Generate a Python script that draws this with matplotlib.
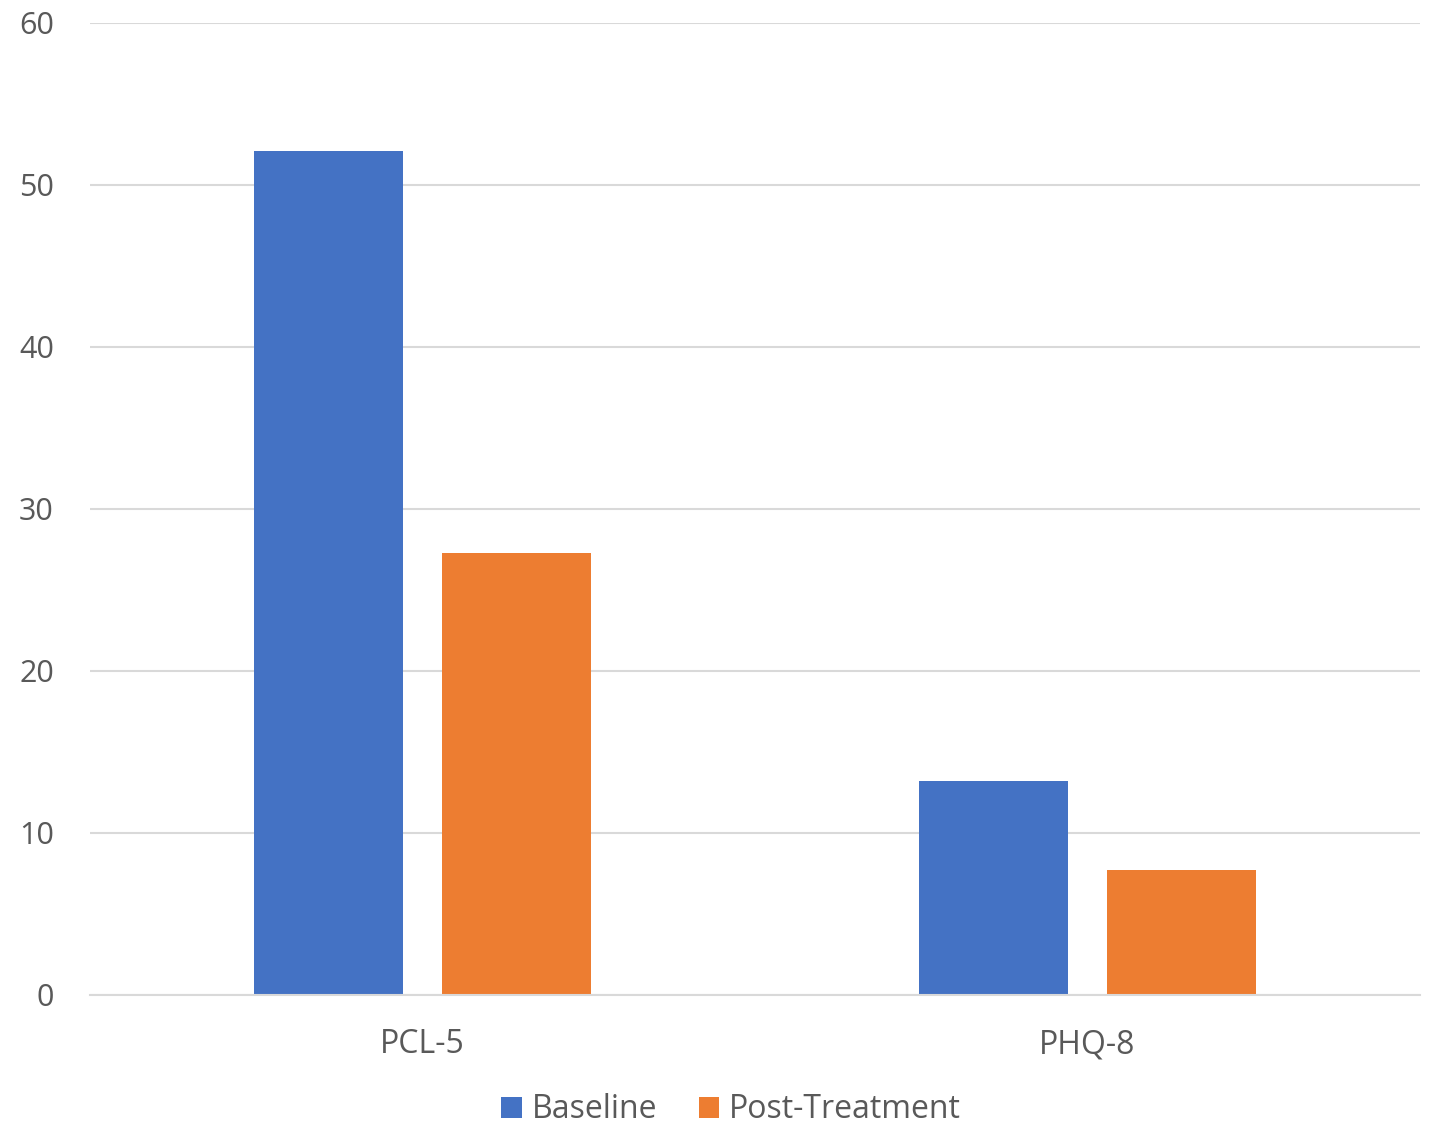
import matplotlib.pyplot as plt
import numpy as np

plt.rcParams['font.family'] = ['Open Sans', 'DejaVu Sans']

categories = ['PCL-5', 'PHQ-8']
baseline = [52.1, 13.2]
post_treatment = [27.3, 7.7]
series_names = ['Baseline', 'Post-Treatment']
yticks = [0, 10, 20, 30, 40, 50, 60]

txt = '#595959'
grid_c = '#D9D9D9'

fig = plt.figure(figsize=(14.30, 11.27), dpi=100)
ax = fig.add_axes([90 / 1430, 1 - 995 / 1127, 1330 / 1430, 972 / 1127])

x = np.arange(len(categories))
w = 0.224
off = 0.142
ax.bar(x - off, baseline, w, color='#4472C4', label=series_names[0], zorder=3)
ax.bar(x + off, post_treatment, w, color='#ED7D31', label=series_names[1], zorder=3)

ax.set_xlim(-0.5, len(categories) - 0.5)
ax.set_ylim(0, 60)
ax.set_yticks(yticks)
ax.set_xticks(x)
ax.set_xticklabels(categories)

ax.grid(axis='y', color=grid_c, linewidth=1.5, zorder=0)
for s in ['top', 'right', 'left']:
    ax.spines[s].set_visible(False)
ax.spines['bottom'].set_color(grid_c)
ax.spines['bottom'].set_linewidth(1.5)
ax.spines['bottom'].set_zorder(4)

ax.tick_params(axis='y', length=0, pad=26, labelsize=22, labelcolor=txt)
ax.tick_params(axis='x', length=0, pad=24, labelsize=23, labelcolor=txt)

leg = fig.legend(loc='center', bbox_to_anchor=(731 / 1430, 1 - 1110 / 1127),
                 ncol=2, frameon=False, fontsize=23, handlelength=0.65,
                 handleheight=0.65, handletextpad=0.3, columnspacing=1.3)
for t in leg.get_texts():
    t.set_color(txt)

fig.savefig('out.png', dpi=100)
